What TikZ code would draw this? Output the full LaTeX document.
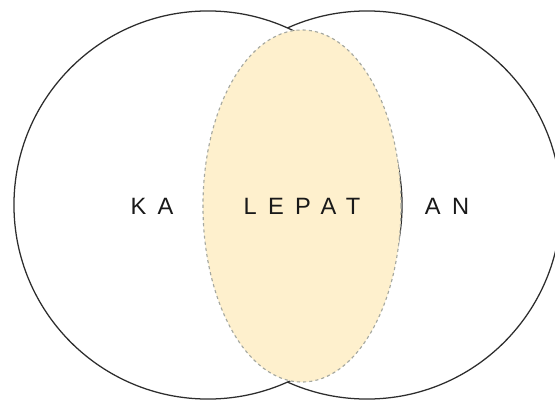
\documentclass[tikz,border=0pt]{standalone}
\usepackage{fontspec}
\setmainfont{Liberation Sans}
\newfontfamily\spacedfont[LetterSpace=48]{Liberation Sans}
\usetikzlibrary{shapes.geometric}
\definecolor{lepatfill}{RGB}{254,240,205}
\definecolor{lepatdash}{RGB}{165,168,160}
\definecolor{ringline}{RGB}{45,45,45}

\begin{document}
\begin{tikzpicture}[x=0.025cm, y=-0.025cm,
    ring/.style={circle, draw=ringline, line width=0.9pt, fill=white, minimum size=9.7cm, inner sep=0pt},
    overlap/.style={ellipse, draw=lepatdash, dash pattern=on 2.2pt off 2.2pt, line width=0.8pt, fill=lepatfill, minimum width=4.95cm, minimum height=8.8cm, inner sep=0pt},
    word/.style={font=\spacedfont\fontsize{16.8}{20}\selectfont, text=black!90, inner sep=0pt}]
    \useasboundingbox (0,0) rectangle (555,401);

    % two rings, the right one first so the left one hides its inner arc
    \node[ring] (an) at (367,205) {};
    \node[ring] (ka) at (208,205) {};

    % the shared part
    \node[overlap] (lepat) at (302,206) {};

    \node[word] (kaText) at (152,206) {KA};
    \node[word] (lepatText) at (302,206) {LEPAT};
    \node[word] (anText) at (447,206) {AN};
\end{tikzpicture}
\end{document}
